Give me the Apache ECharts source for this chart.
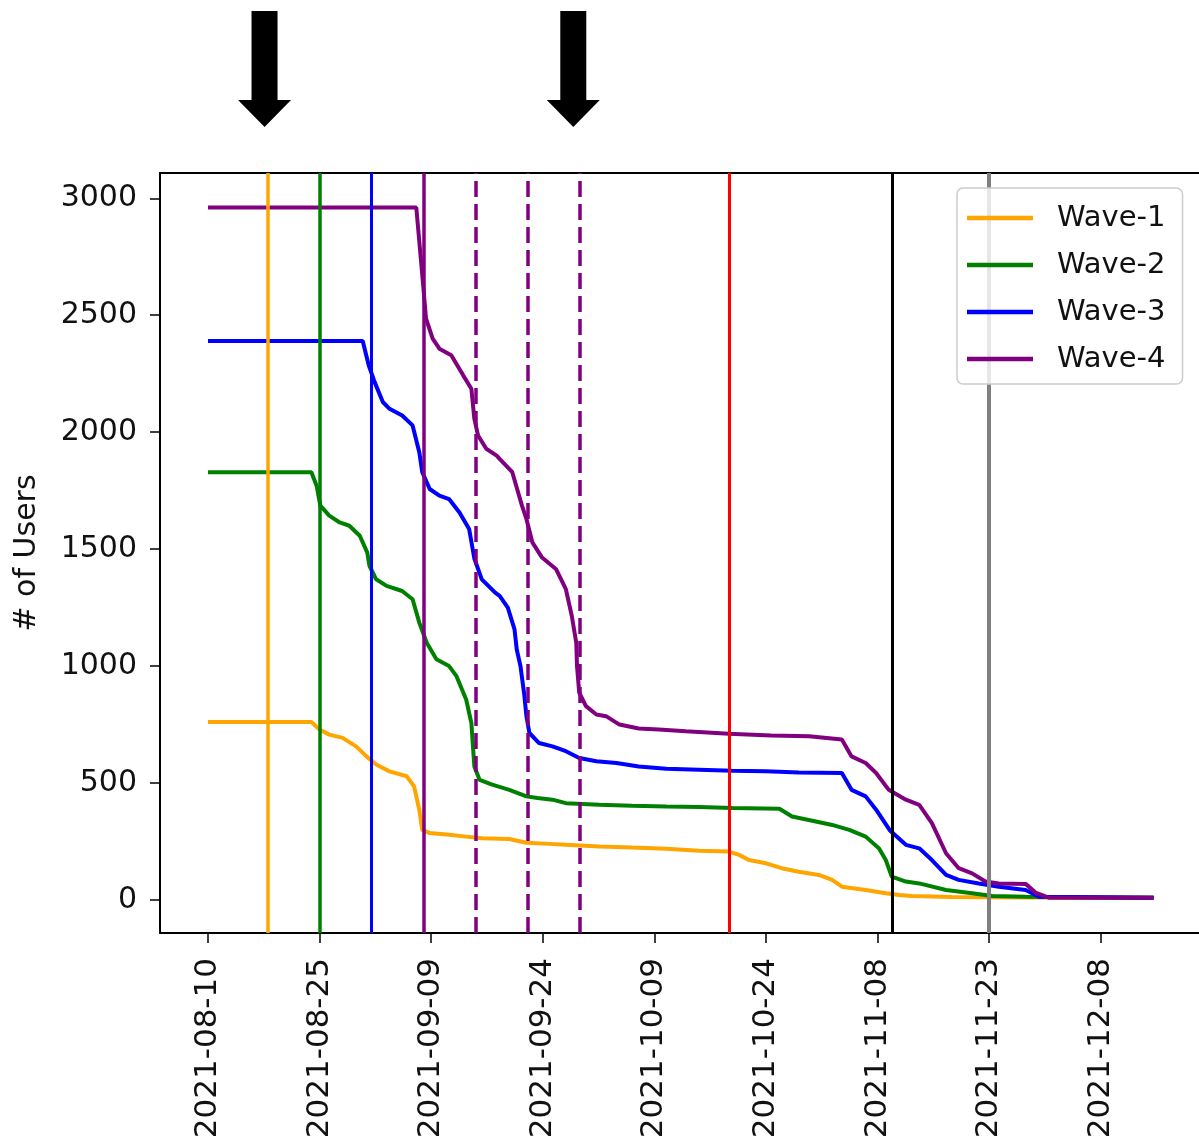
<!DOCTYPE html>
<html>
<head>
<meta charset="utf-8">
<script src="https://cdn.jsdelivr.net/npm/echarts@6/dist/echarts.min.js"></script>
<style>
  html, body { margin: 0; padding: 0; background: #fff; }
  #chart { width: 1199px; height: 1145px; }
</style>
</head>
<body>
<div id="chart"></div>
<script>
// Day 0 of the study window; the x axis counts days from here
const START = '2021-08-10';
const DAY_MS = 86400000;

const tickLabels = ['2021-08-10', '2021-08-25', '2021-09-09', '2021-09-24', '2021-10-09',
                    '2021-10-24', '2021-11-08', '2021-11-23', '2021-12-08'];
const yTicks = [0, 500, 1000, 1500, 2000, 2500, 3000];

const waveNames = ['Wave-1', 'Wave-2', 'Wave-3', 'Wave-4'];

// Remaining users per wave: days since START and user counts
const wave1Days = [0, 13.9, 15.0, 16.3, 18.1, 19.9, 21.3, 22.6, 24.4, 26.7,
                   27.7, 28.4, 28.8, 29.8, 32.4, 34.7, 36.9, 40.5, 42.8, 45.9,
                   48.1, 52.6, 57.0, 61.6, 66.0, 70.0, 71.4, 72.7, 75.0, 77.1,
                   79.4, 82.1, 83.9, 85.2, 88.4, 91.1, 92.9, 94.6, 100, 110, 127.1];
const wave1Users = [761, 761, 729, 707, 693, 657, 614, 579, 550, 529,
                    486, 386, 300, 286, 279, 271, 264, 261, 245, 240,
                    236, 229, 224, 219, 211, 207, 193, 171, 157, 136,
                    121, 107, 86, 57, 43, 29, 21, 17, 13, 11, 10];

const wave2Days = [0, 13.9, 14.6, 15.1, 16.3, 17.7, 19.0, 20.4, 21.4, 21.7,
                   22.6, 24.0, 26.1, 27.5, 28.4, 29.4, 30.7, 32.4, 33.4, 34.7,
                   35.4, 35.8, 36.5, 38.2, 40.5, 42.8, 44.3, 46.3, 48.1, 52.6,
                   57.0, 61.6, 66.0, 70.5, 76.8, 78.5, 81.7, 83.9, 86.2, 88.4,
                   90.2, 91.1, 91.9, 93.8, 95.6, 99.2, 102.7, 105.4, 109.9, 127.1];
const wave2Users = [1829, 1829, 1771, 1686, 1643, 1614, 1600, 1557, 1486, 1429,
                    1371, 1343, 1321, 1286, 1186, 1100, 1029, 1000, 957, 857,
                    757, 571, 514, 493, 471, 443, 436, 429, 414, 407,
                    403, 400, 398, 393, 390, 357, 336, 321, 300, 271,
                    220, 171, 100, 79, 71, 43, 29, 17, 14, 10];

const wave3Days = [0, 20.8, 21.6, 22.4, 23.5, 24.4, 26.1, 27.5, 28.4, 28.8,
                   29.8, 31.1, 32.4, 33.8, 35.1, 35.8, 36.8, 38.6, 39.2, 40.3,
                   41.2, 41.5, 42.0, 42.5, 42.8, 43.2, 44.5, 46.3, 48.1, 49.9,
                   52.2, 54.9, 57.9, 61.6, 66.0, 70.5, 75.0, 79.4, 85.2, 86.5,
                   88.4, 89.8, 91.7, 93.8, 95.6, 97.3, 99.2, 100.9, 103.6, 106.3,
                   109.9, 111.7, 127.1];
const wave3Users = [2390, 2390, 2286, 2214, 2129, 2100, 2071, 2029, 1914, 1829,
                    1757, 1729, 1714, 1657, 1586, 1460, 1371, 1314, 1300, 1250,
                    1157, 1071, 1000, 880, 786, 714, 671, 657, 636, 607,
                    593, 586, 571, 561, 557, 553, 550, 545, 543, 471,
                    443, 386, 296, 236, 221, 171, 107, 86, 71, 57,
                    43, 14, 10];

const wave4Days = [0, 28.0, 29.0, 29.3, 30.2, 31.1, 32.7, 34.3, 35.4, 35.8,
                   36.3, 37.4, 38.8, 39.2, 40.9, 42.2, 42.8, 43.6, 44.9, 46.8,
                   48.1, 48.9, 49.5, 49.6, 49.9, 50.8, 52.2, 53.5, 55.3, 57.9,
                   60.6, 64.2, 70.0, 75.7, 80.8, 85.2, 86.5, 88.4, 89.8, 91.5,
                   93.8, 95.6, 97.3, 99.2, 100.9, 102.7, 104.5, 106.3, 109.9, 111.3,
                   113.0, 127.1];
const wave4Users = [2960, 2960, 2600, 2486, 2400, 2357, 2329, 2243, 2186, 2057,
                    1986, 1929, 1900, 1886, 1829, 1686, 1629, 1529, 1464, 1414,
                    1329, 1214, 1100, 1000, 886, 829, 793, 786, 750, 733,
                    729, 721, 711, 703, 700, 686, 614, 586, 543, 471,
                    429, 407, 329, 200, 136, 114, 79, 71, 69, 30,
                    10, 10];

// Event markers (vertical lines)
const eventDates = ['2021-08-18', '2021-08-25', '2021-09-01', '2021-09-08',
                    '2021-09-15', '2021-09-22', '2021-09-29',
                    '2021-10-19', '2021-11-10', '2021-11-23'];

// Highlighted moments (arrows above the plot), days since START
const arrowDays = [7.6, 49.1];

// ---- styling ----
const FONT = 'DejaVu Sans';
const waveColors = ['#FFA500', '#008000', '#0000FF', '#800080'];
const eventStyles = [
  { color: '#FFA500', width: 3.5, type: 'solid' },
  { color: '#008000', width: 3.5, type: 'solid' },
  { color: '#0000FF', width: 3, type: 'solid' },
  { color: '#800080', width: 3.5, type: 'solid' },
  { color: '#800080', width: 3.5, type: [16, 7] },
  { color: '#800080', width: 3.5, type: [16, 7] },
  { color: '#800080', width: 3.5, type: [16, 7] },
  { color: '#FF0000', width: 3, type: 'solid' },
  { color: '#000000', width: 3, type: 'solid' },
  { color: '#808080', width: 4, type: 'solid' }
];

const startMs = Date.parse(START);
const dateToDay = s => (Date.parse(s) - startMs) / DAY_MS;
const dayToDate = d => new Date(startMs + Math.round(d) * DAY_MS).toISOString().slice(0, 10);
const pairs = (days, users) => days.map((d, i) => [d, users[i]]);

const waveDays = [wave1Days, wave2Days, wave3Days, wave4Days];
const waveUsers = [wave1Users, wave2Users, wave3Users, wave4Users];
const xTickDays = tickLabels.map(dateToDay);

const X_MIN = -6.45, X_MAX = 133.2;

const chart = echarts.init(document.getElementById('chart'), null, { renderer: 'canvas' });

const waveSeries = waveNames.map((name, i) => ({
  name,
  type: 'line',
  data: pairs(waveDays[i], waveUsers[i]),
  symbol: 'none',
  showSymbol: false,
  color: waveColors[i],
  lineStyle: { color: waveColors[i], width: 4 },
  z: 3
}));

const eventSeries = {
  name: 'events',
  type: 'line',
  data: [],
  symbol: 'none',
  z: 4,
  markLine: {
    silent: true,
    symbol: 'none',
    label: { show: false },
    animation: false,
    data: eventDates.map((d, i) => ({ xAxis: dateToDay(d), lineStyle: eventStyles[i] }))
  }
};

chart.setOption({
  animation: false,
  backgroundColor: '#fff',
  textStyle: { fontFamily: FONT },
  grid: {
    left: 160, top: 173, width: 1040, height: 760,
    show: false, containLabel: false
  },
  legend: {
    data: waveNames,
    orient: 'vertical',
    left: 957, top: 188,
    padding: [15, 17, 10, 10],
    icon: 'rect',
    itemWidth: 66, itemHeight: 4.5, itemGap: 17,
    backgroundColor: 'rgba(255,255,255,0.8)',
    borderColor: '#cccccc', borderWidth: 1.5, borderRadius: 6,
    textStyle: { fontFamily: FONT, fontSize: 29, color: '#111', padding: [0, 0, 0, 19], lineHeight: 30 },
    z: 10
  },
  xAxis: [{
    type: 'value',
    min: X_MIN,
    max: X_MAX,
    splitLine: { show: false },
    axisLine: { onZero: false, lineStyle: { color: '#000', width: 2 } },
    axisTick: {
      show: true, length: 10, inside: false,
      lineStyle: { color: '#000', width: 1.5 },
      customValues: xTickDays
    },
    axisLabel: {
      customValues: xTickDays,
      formatter: v => dayToDate(v),
      rotate: 90,
      margin: 25,
      fontFamily: FONT, fontSize: 31, color: '#111',
      hideOverlap: false,
      showMinLabel: true, showMaxLabel: true
    }
  }, {
    // top frame line of the plot area
    type: 'value',
    position: 'top',
    min: X_MIN,
    max: X_MAX,
    splitLine: { show: false },
    axisLine: { show: true, onZero: false, lineStyle: { color: '#000', width: 2 } },
    axisTick: { show: false },
    axisLabel: { show: false }
  }],
  yAxis: {
    type: 'value',
    min: -141, max: 3108,
    name: '# of Users',
    nameLocation: 'middle',
    nameRotate: 90,
    nameGap: 118,
    nameTextStyle: { fontFamily: FONT, fontSize: 30, color: '#111' },
    splitLine: { show: false },
    axisLine: { show: true, onZero: false, lineStyle: { color: '#000', width: 2 } },
    axisTick: {
      show: true, length: 10,
      lineStyle: { color: '#000', width: 1.5 },
      customValues: yTicks
    },
    axisLabel: {
      customValues: yTicks,
      formatter: v => String(v),
      margin: 23,
      fontFamily: FONT, fontSize: 30, color: '#111'
    }
  },
  series: [...waveSeries, eventSeries]
});

// Arrows pointing down at the highlighted dates
function arrowShape(cx) {
  return [[cx - 13, 11], [cx + 13, 11], [cx + 13, 100], [cx + 26.5, 100],
          [cx, 127], [cx - 26.5, 100], [cx - 13, 100]];
}
chart.setOption({
  graphic: arrowDays.map(d => {
    const cx = chart.convertToPixel({ xAxisIndex: 0 }, d);
    return { type: 'polygon', shape: { points: arrowShape(cx) }, style: { fill: '#000' }, silent: true };
  })
});
</script>
</body>
</html>
